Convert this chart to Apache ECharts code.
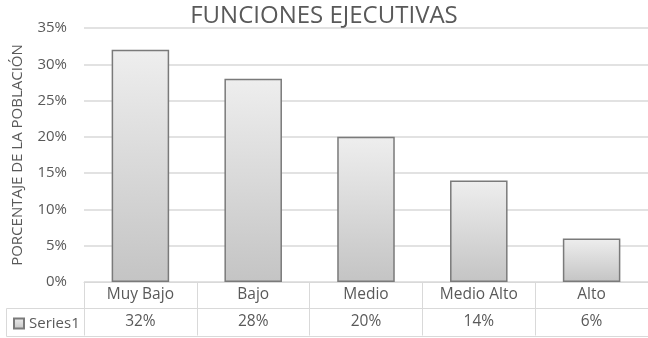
<!DOCTYPE html>
<html>
<head>
<meta charset="utf-8">
<style>
  html, body { margin: 0; padding: 0; background: #ffffff; }
  #chart { width: 648px; height: 338px; }
</style>
<script src="https://cdn.jsdelivr.net/npm/echarts@6/dist/echarts.min.js"></script>
</head>
<body>
<div id="chart"></div>
<script>
// Niveles evaluados y porcentaje de la población en cada uno
const categories = ['Muy Bajo', 'Bajo', 'Medio', 'Medio Alto', 'Alto'];
const seriesName = 'Series1';
const values = [32, 28, 20, 14, 6];
const yTicks = [0, 5, 10, 15, 20, 25, 30, 35];

const FONT = '"Open Sans", "Noto Sans", sans-serif';
const TEXT = '#595959';
const LINE = '#d9d9d9';

const chart = echarts.init(document.getElementById('chart'), null, { renderer: 'canvas' });

const barFill = new echarts.graphic.LinearGradient(0, 0, 0, 1, [
  { offset: 0, color: '#eeeeee' },
  { offset: 1, color: '#c4c4c4' }
]);

// Table rows below the plot: category names, then the series values
const tableRow = (offset, labels, showLabels) => ({
  type: 'category',
  gridIndex: 0,
  position: 'bottom',
  offset: offset,
  data: labels,
  boundaryGap: true,
  axisLine: { show: true, lineStyle: { color: LINE, width: 1 } },
  axisTick: { show: showLabels, length: 27, interval: 0, lineStyle: { color: LINE, width: 1 } },
  axisLabel: {
    show: showLabels, interval: 0, margin: 5,
    color: TEXT, fontFamily: FONT, fontSize: 15.5
  },
  splitLine: { show: false }
});

chart.setOption({
  animation: false,
  backgroundColor: '#ffffff',
  title: {
    text: 'FUNCIONES EJECUTIVAS',
    left: 'center',
    top: -1,
    textStyle: { color: TEXT, fontFamily: FONT, fontSize: 24, fontWeight: 'normal' }
  },
  legend: {
    data: [seriesName],
    left: 13,
    top: 316,
    padding: 0,
    icon: 'rect',
    itemWidth: 10,
    itemHeight: 10,
    itemGap: 4,
    textStyle: { color: TEXT, fontFamily: FONT, fontSize: 15 }
  },
  grid: { left: 84, right: -9, top: 28, bottom: 56, containLabel: false },
  xAxis: [
    tableRow(0, categories, true),
    tableRow(26.5, values.map(v => v + '%'), true),
    tableRow(54.5, values.map(() => ''), false)
  ],
  yAxis: {
    type: 'value',
    min: yTicks[0],
    max: yTicks[yTicks.length - 1],
    interval: yTicks[1] - yTicks[0],
    name: 'PORCENTAJE DE LA POBLACIÓN',
    nameLocation: 'middle',
    nameGap: 59,
    nameTextStyle: { color: TEXT, fontFamily: FONT, fontSize: 15 },
    axisLine: { show: false },
    axisTick: { show: false },
    axisLabel: { formatter: '{value}%', color: TEXT, fontFamily: FONT, fontSize: 15, margin: 17 },
    splitLine: { lineStyle: { color: LINE, width: 1.5 } }
  },
  series: [{
    name: seriesName,
    type: 'bar',
    xAxisIndex: 0,
    data: values,
    barWidth: '51%',
    itemStyle: { color: barFill, borderColor: '#7a7a7a', borderWidth: 1.5 }
  }],
  graphic: [{
    // Frame of the series-name cell at the left of the table
    type: 'polyline',
    shape: { points: [[84, 308.5], [6.5, 308.5], [6.5, 336.5], [84, 336.5]] },
    style: { stroke: LINE, lineWidth: 1, fill: null },
    silent: true
  }]
});
</script>
</body>
</html>
